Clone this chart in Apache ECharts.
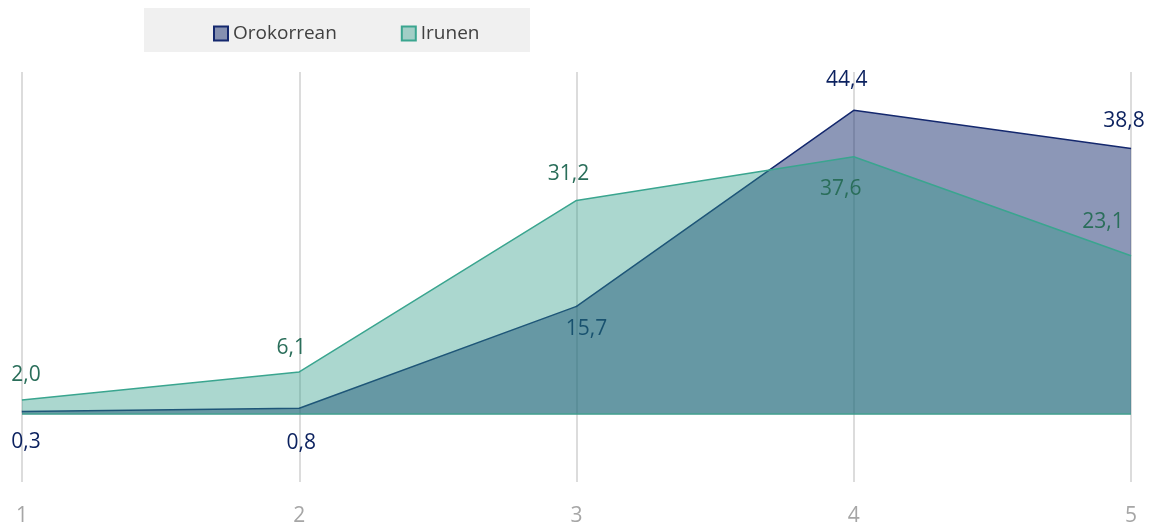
<!DOCTYPE html>
<html>
<head>
<meta charset="utf-8">
<script src="https://cdn.jsdelivr.net/npm/echarts@6/dist/echarts.min.js"></script>
<style>
html,body{margin:0;padding:0;background:#fff;}
#chart{width:1153px;height:527px;}
</style>
</head>
<body>
<div id="chart"></div>
<script>
const categories = ['1', '2', '3', '4', '5'];
const seriesNames = ['Orokorrean', 'Irunen'];
const orokorrean = [0.3, 0.8, 15.7, 44.4, 38.8];
const irunen = [2.0, 6.1, 31.2, 37.6, 23.1];

// label placement (layout only): [dx, dy] from the point
const orokorreanLabelOffsets = [[4, 30], [2, 35], [10, 23], [-7, -30], [-7, -28]];
const irunenLabelOffsets = [[4, -25], [-8, -24], [-8, -26], [-13, 32], [-28, -34]];

const fmt = v => v.toFixed(1).replace('.', ',');
const FONT = '"Open Sans", "Noto Sans", sans-serif';

function build(values, offsets) {
  return values.map((v, i) => ({
    value: v,
    label: { offset: offsets[i] }
  }));
}

const chart = echarts.init(document.getElementById('chart'), null, { renderer: 'canvas' });
chart.setOption({
  animation: false,
  backgroundColor: '#ffffff',
  graphic: [{
    type: 'rect',
    left: 144, top: 8,
    shape: { width: 386, height: 44 },
    style: { fill: '#f0f0f0' },
    z: -1
  }],
  legend: {
    top: 19,
    left: 208,
    itemWidth: 14,
    itemHeight: 14,
    itemGap: 64,
    icon: 'rect',
    textStyle: { fontFamily: FONT, fontSize: 19, color: '#404040' },
    data: seriesNames
  },
  grid: { left: 22, right: 22, top: 72, bottom: 45, containLabel: false },
  xAxis: {
    type: 'category',
    data: categories,
    boundaryGap: false,
    axisLine: { show: false },
    axisTick: { show: false },
    axisLabel: { color: '#a6a6a6', fontFamily: FONT, fontSize: 21, margin: 24 },
    splitLine: { show: true, lineStyle: { color: '#dcdcdc', width: 2 } }
  },
  yAxis: {
    type: 'value',
    min: -10, max: 50, interval: 10,
    show: false,
    splitLine: { show: false }
  },
  series: [
    {
      name: seriesNames[0],
      type: 'line',
      data: build(orokorrean, orokorreanLabelOffsets),
      symbol: 'circle',
      symbolSize: 0.1,
      showSymbol: true,
      itemStyle: { color: 'rgba(26,48,112,0.5)', borderColor: '#14286e', borderWidth: 1.5 },
      lineStyle: { color: '#14286e', width: 1.5 },
      areaStyle: { color: '#1a3070', opacity: 0.5 },
      label: {
        show: true, position: 'inside',
        formatter: p => fmt(p.value),
        color: '#0b215f', fontFamily: FONT, fontSize: 21
      },
      z: 2
    },
    {
      name: seriesNames[1],
      type: 'line',
      data: build(irunen, irunenLabelOffsets),
      symbol: 'circle',
      symbolSize: 0.1,
      showSymbol: true,
      itemStyle: { color: 'rgba(46,154,136,0.4)', borderColor: '#3aa58f', borderWidth: 1.5 },
      lineStyle: { color: '#3aa58f', width: 1.5 },
      areaStyle: { color: '#2e9a88', opacity: 0.4 },
      label: {
        show: true, position: 'inside',
        formatter: p => fmt(p.value),
        color: '#2a6e5a', fontFamily: FONT, fontSize: 21
      },
      markLine: {
        silent: true, symbol: 'none', label: { show: false },
        lineStyle: { color: '#3a9a8a', width: 1.5, type: 'solid' },
        data: [{ yAxis: 0 }]
      },
      z: 3
    }
  ]
});
</script>
</body>
</html>
